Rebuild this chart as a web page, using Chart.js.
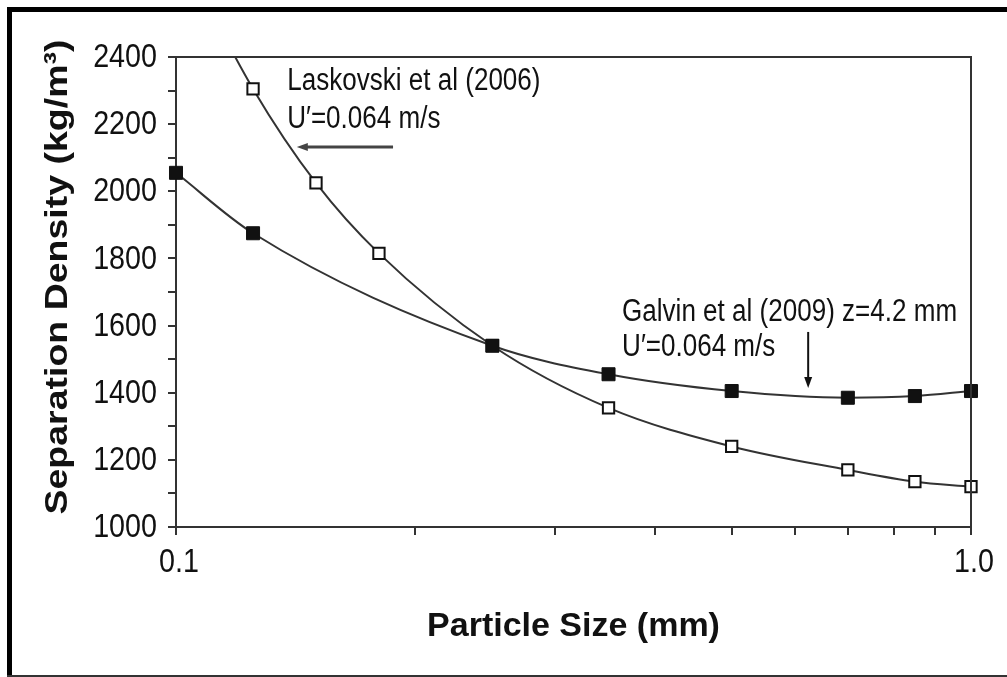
<!DOCTYPE html>
<html>
<head>
<meta charset="utf-8">
<script src="https://cdn.jsdelivr.net/npm/chart.js@4"></script>
<style>
  html, body { margin: 0; padding: 0; background: #fff; }
  canvas { display: block; }
</style>
</head>
<body>
<canvas id="densityChart" width="1007" height="677"></canvas>
<script>
// Particle size (mm) vs separation density (kg/m3)
const galvinSize = [0.1, 0.125, 0.25, 0.35, 0.5, 0.7, 0.85, 1.0];
const galvinDensity = [2055, 1875, 1540, 1455, 1405, 1385, 1390, 1405];

// first point only carries the curve past the top of the axis
const laskovskiSize = [0.1, 0.125, 0.15, 0.18, 0.25, 0.35, 0.5, 0.7, 0.85, 1.0];
const laskovskiDensity = [2740, 2305, 2025, 1815, 1540, 1355, 1240, 1170, 1135, 1120];

const xTickValues = [0.1, 0.2, 0.3, 0.4, 0.5, 0.6, 0.7, 0.8, 0.9, 1.0];
const xTickLabels = { 0.1: '0.1', 1: '1.0' };
const yTickLabels = [1000, 1200, 1400, 1600, 1800, 2000, 2200, 2400];

const sansFont = "'Liberation Sans', Arial, sans-serif";

const toPoints = (xs, ys) => xs.map((x, i) => ({ x: x, y: ys[i] }));

// annotation text + arrows, anchored in data units
const notes = [
    { x: 0.138, y: 2328, text: 'Laskovski et al (2006)' },
    { x: 0.138, y: 2215, text: 'U\u2032=0.064 m/s' },
    { x: 0.364, y: 1640, text: 'Galvin et al (2009) z=4.2 mm' },
    { x: 0.364, y: 1535, text: 'U\u2032=0.064 m/s' }
];
const arrows = [
    { x0: 0.1875, y0: 2132, x1: 0.1419, y1: 2132, color: '#444', width: 3 },
    { x0: 0.624, y0: 1581, x1: 0.624, y1: 1414, color: '#111', width: 2 }
];

// no narrow face installed, so squeeze the normal one
function narrowText(ctx, text, x, y, align, sx) {
    ctx.save();
    ctx.translate(x, y);
    ctx.scale(sx, 1);
    ctx.textAlign = align;
    ctx.fillText(text, 0, 0);
    ctx.restore();
}

const framePlugin = {
    id: 'frame',
    afterDraw(chart) {
        const ctx = chart.ctx;
        const area = chart.chartArea;
        const xs = chart.scales.x;
        const ys = chart.scales.y;
        ctx.save();

        // top + right of the plot box
        ctx.strokeStyle = '#333';
        ctx.lineWidth = 2;
        ctx.beginPath();
        ctx.moveTo(area.left, area.top);
        ctx.lineTo(area.right, area.top);
        ctx.lineTo(area.right, area.bottom);
        ctx.stroke();

        // outer picture frame
        ctx.fillStyle = '#000';
        ctx.fillRect(7, 7, 1000, 5);
        ctx.fillRect(7, 7, 5, 670);
        ctx.fillStyle = '#333';
        ctx.fillRect(7, 675, 1000, 2);

        // tick labels
        ctx.fillStyle = '#111';
        ctx.font = '33px ' + sansFont;
        ctx.textBaseline = 'middle';
        ys.ticks.forEach(t => {
            if (yTickLabels.includes(t.value)) {
                narrowText(ctx, String(t.value), area.left - 19, ys.getPixelForValue(t.value) + 1, 'right', 0.87);
            }
        });
        xs.ticks.forEach(t => {
            const lab = xTickLabels[t.value];
            if (lab) narrowText(ctx, lab, xs.getPixelForValue(t.value) + 3, area.bottom + 36, 'center', 0.87);
        });

        // y axis title
        const yTitle = 'Separation Density (kg/m\u00B3)';
        ctx.font = 'bold 32px ' + sansFont;
        const w = ctx.measureText(yTitle).width;
        ctx.translate(58, 277);
        ctx.rotate(-Math.PI / 2);
        ctx.scale(475 / w, 1);
        ctx.textAlign = 'center';
        ctx.fillText(yTitle, 0, 0);
        ctx.setTransform(1, 0, 0, 1, 0, 0);

        // notes
        ctx.font = '31px ' + sansFont;
        notes.forEach(n => {
            narrowText(ctx, n.text, xs.getPixelForValue(n.x), ys.getPixelForValue(n.y), 'left', 0.84);
        });

        arrows.forEach(a => {
            const px0 = xs.getPixelForValue(a.x0), py0 = ys.getPixelForValue(a.y0);
            const px1 = xs.getPixelForValue(a.x1), py1 = ys.getPixelForValue(a.y1);
            const ang = Math.atan2(py1 - py0, px1 - px0);
            const head = 11;
            ctx.strokeStyle = a.color;
            ctx.fillStyle = a.color;
            ctx.lineWidth = a.width;
            ctx.beginPath();
            ctx.moveTo(px0, py0);
            ctx.lineTo(px1 - Math.cos(ang) * head * 0.8, py1 - Math.sin(ang) * head * 0.8);
            ctx.stroke();
            ctx.beginPath();
            ctx.moveTo(px1, py1);
            ctx.lineTo(px1 - head * Math.cos(ang) + 4 * Math.sin(ang), py1 - head * Math.sin(ang) - 4 * Math.cos(ang));
            ctx.lineTo(px1 - head * Math.cos(ang) - 4 * Math.sin(ang), py1 - head * Math.sin(ang) + 4 * Math.cos(ang));
            ctx.closePath();
            ctx.fill();
        });
        ctx.restore();
    }
};

const ctx = document.getElementById('densityChart').getContext('2d');

new Chart(ctx, {
    type: 'line',
    data: {
        datasets: [
            {
                label: 'Galvin et al (2009)',
                data: toPoints(galvinSize, galvinDensity),
                borderColor: '#333',
                borderWidth: 2,
                cubicInterpolationMode: 'monotone',
                pointStyle: 'rect',
                pointRadius: 9.2,
                pointBackgroundColor: '#111',
                pointBorderColor: '#111',
                pointBorderWidth: 1,
                clip: { left: 12, right: 12, top: 0, bottom: 0 }
            },
            {
                label: 'Laskovski et al (2006)',
                data: toPoints(laskovskiSize, laskovskiDensity),
                borderColor: '#333',
                borderWidth: 2,
                cubicInterpolationMode: 'monotone',
                pointStyle: 'rect',
                pointRadius: laskovskiSize.map((s, i) => i === 0 ? 0 : 8),
                pointBackgroundColor: '#fff',
                pointBorderColor: '#111',
                pointBorderWidth: 2,
                clip: { left: 12, right: 12, top: 0, bottom: 0 }
            }
        ]
    },
    options: {
        responsive: false,
        animation: false,
        layout: { padding: { left: 0, right: 36, top: 57, bottom: 0 } },
        plugins: {
            legend: { display: false },
            tooltip: { enabled: false }
        },
        scales: {
            x: {
                type: 'logarithmic',
                min: 0.1,
                max: 1.0,
                afterBuildTicks: scale => { scale.ticks = xTickValues.map(v => ({ value: v })); },
                afterFit: scale => { scale.height = 150; },
                ticks: { display: false, autoSkip: false },
                grid: { drawOnChartArea: false, color: '#333', lineWidth: 2, tickLength: 8 },
                border: { display: true, color: '#333', width: 2 },
                title: {
                    display: true,
                    text: 'Particle Size (mm)',
                    color: '#111',
                    font: { family: sansFont, size: 34, weight: 'bold' },
                    padding: { top: 0, bottom: 30 }
                }
            },
            y: {
                min: 1000,
                max: 2400,
                afterFit: scale => { scale.width = 176; },
                ticks: { display: false, stepSize: 100, autoSkip: false },
                grid: { drawOnChartArea: false, color: '#333', lineWidth: 2, tickLength: 8 },
                border: { display: true, color: '#333', width: 2 }
            }
        }
    },
    plugins: [framePlugin]
});
</script>
</body>
</html>
